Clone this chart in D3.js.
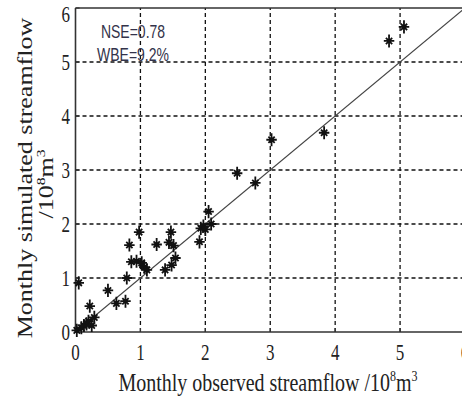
<!DOCTYPE html>
<html>
<head>
<meta charset="utf-8">
<script src="https://cdn.jsdelivr.net/npm/d3@7"></script>
<style>
  html, body { margin: 0; padding: 0; background: #fff; }
  svg { display: block; }
</style>
</head>
<body>
<div id="chart"></div>
<script>
// ---- data ----
const observed = [0.02, 0.05, 0.09, 0.13, 0.17, 0.20, 0.22, 0.25, 0.29, 0.50,
                  0.63, 0.77, 0.79, 0.83, 0.86, 0.94, 0.98, 1.02, 1.06, 1.10,
                  1.25, 1.38, 1.44, 1.47, 1.48, 1.51, 1.54, 1.91, 1.93, 1.97,
                  2.00, 2.05, 2.09, 2.49, 2.77, 3.02, 3.83, 4.83, 5.06];
const simulated = [0.03, 0.91, 0.08, 0.12, 0.15, 0.20, 0.48, 0.12, 0.27, 0.77,
                   0.53, 0.57, 1.00, 1.61, 1.30, 1.31, 1.85, 1.28, 1.20, 1.15,
                   1.62, 1.15, 1.66, 1.85, 1.24, 1.60, 1.37, 1.67, 1.92, 1.96,
                   1.90, 2.23, 2.00, 2.94, 2.76, 3.56, 3.69, 5.39, 5.65];
const xTicks = [0, 1, 2, 3, 4, 5, 6];
const yTicks = [0, 1, 2, 3, 4, 5, 6];
const statLines = ["NSE=0.78", "WBE=9.2%"];
const xTitle = ["Monthly observed streamflow /10", "8", "m", "3"];
const yTitle1 = "Monthly simulated streamflow";
const yTitle2 = ["/10", "8", "m", "3"];

const W = 462, H = 397;
const svg = d3.select("#chart").append("svg")
  .attr("width", W).attr("height", H);

const x = d3.scaleLinear().domain([0, 6]).range([75.5, 465]);
const y = d3.scaleLinear().domain([0, 6]).range([332, 8]);
const VS = 1.3; // vertical stretch of text in reference

// grid
const grid = svg.append("g").attr("stroke", "#111").attr("stroke-width", 1.3)
  .attr("stroke-dasharray", "4,3").attr("fill", "none");
grid.selectAll("line.v").data(xTicks.filter(d => d > 0)).join("line")
  .attr("class", "v")
  .attr("x1", d => x(d)).attr("x2", d => x(d))
  .attr("y1", y(0)).attr("y2", y(6));
grid.selectAll("line.h").data(yTicks.filter(d => d > 0 && d < 6)).join("line")
  .attr("class", "h")
  .attr("x1", x(0)).attr("x2", x(6))
  .attr("y1", d => y(d)).attr("y2", d => y(d));

// 1:1 line
svg.append("line")
  .attr("x1", x(0)).attr("y1", y(0)).attr("x2", x(6)).attr("y2", y(6))
  .attr("stroke", "#444").attr("stroke-width", 1.1);

// axes box
const axisG = svg.append("g").attr("stroke", "#333").attr("stroke-width", 1.6).attr("fill", "none");
axisG.append("line").attr("x1", x(0)).attr("x2", x(0)).attr("y1", y(0)).attr("y2", y(6));
axisG.append("line").attr("x1", x(0)).attr("x2", x(6)).attr("y1", y(0)).attr("y2", y(0));
axisG.append("line").attr("x1", x(0)).attr("x2", x(6)).attr("y1", y(6)).attr("y2", y(6));

// inward ticks
axisG.selectAll("line.xt").data(xTicks).join("line").attr("class", "xt")
  .attr("x1", d => x(d)).attr("x2", d => x(d)).attr("y1", y(0)).attr("y2", y(0) - 4)
  .attr("stroke-width", 1.2);
axisG.selectAll("line.yt").data(yTicks).join("line").attr("class", "yt")
  .attr("x1", x(0)).attr("x2", x(0) + 4).attr("y1", d => y(d)).attr("y2", d => y(d))
  .attr("stroke-width", 1.2);

// tick labels
const serif = "'Liberation Serif', 'Times New Roman', serif";
svg.append("g").selectAll("text").data(xTicks).join("text")
  .attr("transform", d => `translate(${x(d)},360) scale(1,${VS})`)
  .attr("text-anchor", "middle")
  .attr("font-family", serif).attr("font-size", 17).attr("fill", "#222")
  .text(d => d);
svg.append("g").selectAll("text").data(yTicks).join("text")
  .attr("transform", d => `translate(70,${Math.max(y(d) + 8, 22)}) scale(1,${VS})`)
  .attr("text-anchor", "end")
  .attr("font-family", serif).attr("font-size", 17).attr("fill", "#222")
  .text(d => d);

// x title
const xt = svg.append("text")
  .attr("transform", `translate(268,391) scale(1,${VS})`)
  .attr("text-anchor", "middle")
  .attr("font-family", serif).attr("font-size", 20).attr("fill", "#222");
xt.append("tspan").text(xTitle[0]);
xt.append("tspan").attr("font-size", 12).attr("dy", -8).text(xTitle[1]);
xt.append("tspan").attr("dy", 8).text(xTitle[2]);
xt.append("tspan").attr("font-size", 12).attr("dy", -8).text(xTitle[3]);

// y title
svg.append("text")
  .attr("transform", `translate(32,178) scale(1,${VS}) rotate(-90)`)
  .attr("text-anchor", "middle")
  .attr("font-family", serif).attr("font-size", 20).attr("fill", "#222")
  .text(yTitle1);
const yt2 = svg.append("text")
  .attr("transform", `translate(53,184) scale(1,${VS}) rotate(-90)`)
  .attr("text-anchor", "middle")
  .attr("font-family", serif).attr("font-size", 20).attr("fill", "#222");
yt2.append("tspan").text(yTitle2[0]);
yt2.append("tspan").attr("font-size", 12).attr("dy", -8).text(yTitle2[1]);
yt2.append("tspan").attr("dy", 8).text(yTitle2[2]);
yt2.append("tspan").attr("font-size", 12).attr("dy", -8).text(yTitle2[3]);

// stats
svg.append("g").selectAll("text").data(statLines).join("text")
  .attr("transform", (d, i) => `translate(133,${i === 0 ? 38 : 61}) scale(1,${VS})`)
  .attr("text-anchor", "middle")
  .attr("font-family", "'Liberation Sans', Arial, sans-serif").attr("font-size", 14)
  .attr("fill", "#33334a")
  .text(d => d);

// markers: MATLAB '*' (plus + x), slightly taller as in the reference
const star = {
  draw(ctx, size) {
    const r = Math.sqrt(size) / 2, rv = r * 1.25, q = r * 0.6;
    ctx.moveTo(-r, 0); ctx.lineTo(r, 0);
    ctx.moveTo(0, -rv); ctx.lineTo(0, rv);
    ctx.moveTo(-q, -q); ctx.lineTo(q, q);
    ctx.moveTo(-q, q); ctx.lineTo(q, -q);
  }
};
const pts = observed.map((o, i) => ({ o, s: simulated[i] }));
svg.append("g").selectAll("path").data(pts).join("path")
  .attr("d", d3.symbol().type(star).size(110))
  .attr("transform", d => `translate(${x(d.o)},${y(d.s)})`)
  .attr("stroke", "#111").attr("stroke-width", 1.8).attr("fill", "none");
</script>
</body>
</html>
